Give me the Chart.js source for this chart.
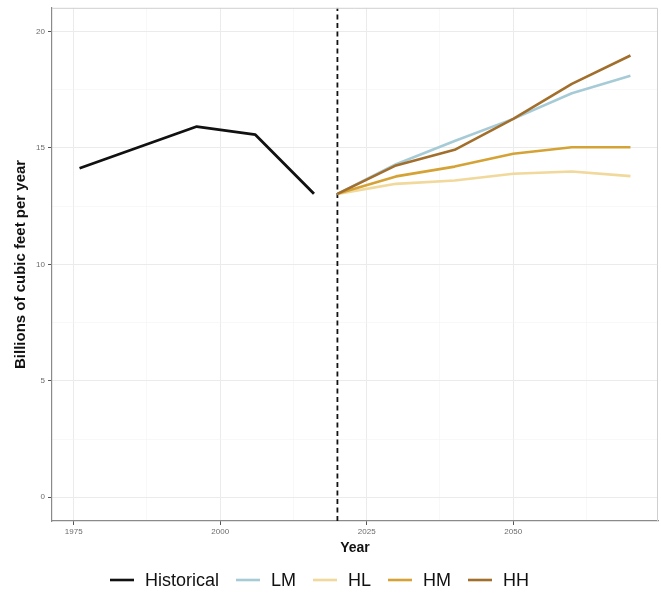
<!DOCTYPE html>
<html>
<head>
<meta charset="utf-8">
<script src="https://cdn.jsdelivr.net/npm/chart.js@4.4.1/dist/chart.umd.min.js"></script>
<style>
  html, body { margin: 0; padding: 0; background: #fff; }
</style>
</head>
<body>
<canvas id="chart" width="661" height="593"></canvas>
<script>
// historical series
const histYears  = [1976, 1996, 2006, 2016];
const histValues = [14.13, 15.92, 15.57, 13.03];

// scenario projections
const projYears = [2020, 2030, 2040, 2050, 2060, 2070];
const lmValues  = [13.03, 14.30, 15.30, 16.25, 17.35, 18.10];
const hlValues  = [13.03, 13.46, 13.60, 13.89, 13.99, 13.79];
const hmValues  = [13.03, 13.78, 14.20, 14.75, 15.03, 15.03];
const hhValues  = [13.03, 14.25, 14.92, 16.25, 17.75, 18.97];

const seriesLabels = ['Historical', 'LM', 'HL', 'HM', 'HH'];
const cutoffYear = 2020;

// axis ticks (major labelled, minor only gridlines)
const xTicks = [1975, 1987.5, 2000, 2012.5, 2025, 2037.5, 2050, 2062.5];
const yTicks = [0, 2.5, 5, 7.5, 10, 12.5, 15, 17.5, 20];
const xRange = [1971.3, 2074.7];
const yRange = [-1.02, 21.02];

const colors = {
  Historical: '#111111',
  LM: '#a7cbd6',
  HL: '#f1d89b',
  HM: '#d5a235',
  HH: '#a26e2c'
};

const toPts = (xs, ys) => xs.map((x, i) => ({ x, y: ys[i] }));
const lineDs = (label, data, order) => ({
  label, data, order,
  borderColor: colors[label],
  backgroundColor: colors[label],
  borderWidth: label === 'Historical' ? 2.8 : 2.6,
  borderJoinStyle: 'round',
  pointRadius: 0,
  tension: 0
});

const isMajor = (v, step) => Math.abs(v / step - Math.round(v / step)) < 1e-6;

// border on top/right of panel (theme_bw style) and custom legend row
const panelAndLegend = {
  id: 'panelAndLegend',
  afterDraw(chart) {
    const { ctx, chartArea: a } = chart;
    ctx.save();
    ctx.strokeStyle = '#cfcfcf';
    ctx.lineWidth = 1;
    ctx.beginPath();
    ctx.moveTo(a.left, a.top + 0.5);
    ctx.lineTo(a.right - 0.5, a.top + 0.5);
    ctx.lineTo(a.right - 0.5, a.bottom);
    ctx.stroke();

    // legend
    const items = chart.data.datasets.filter(d => seriesLabels.includes(d.label));
    ctx.font = '18px "Liberation Sans", Arial, sans-serif';
    ctx.textBaseline = 'middle';
    const sw = 24, gapTxt = 11, gapItem = 17;
    const widths = items.map(d => sw + gapTxt + ctx.measureText(d.label).width);
    const total = widths.reduce((s, w) => s + w, 0) + gapItem * (items.length - 1);
    let x = 319.5 - total / 2;
    const y = 580;
    items.forEach((d, i) => {
      ctx.strokeStyle = d.borderColor;
      ctx.lineWidth = 2.6;
      ctx.beginPath();
      ctx.moveTo(x, y);
      ctx.lineTo(x + sw, y);
      ctx.stroke();
      ctx.fillStyle = '#111';
      ctx.fillText(d.label, x + sw + gapTxt, y + 1);
      x += widths[i] + gapItem;
    });
    ctx.restore();
  }
};

new Chart(document.getElementById('chart'), {
  type: 'line',
  data: {
    datasets: [
      lineDs('Historical', toPts(histYears, histValues), 0),
      lineDs('LM', toPts(projYears, lmValues), 4),
      lineDs('HL', toPts(projYears, hlValues), 3),
      lineDs('HM', toPts(projYears, hmValues), 2),
      lineDs('HH', toPts(projYears, hhValues), 1),
      {
        label: 'cutoff',
        data: [{ x: cutoffYear, y: yRange[0] }, { x: cutoffYear, y: yRange[1] }],
        borderColor: '#111',
        borderWidth: 1.8,
        borderDash: [5, 3.5],
        pointRadius: 0,
        order: 5
      }
    ]
  },
  options: {
    responsive: false,
    animation: false,
    devicePixelRatio: 1,
    layout: { padding: { left: 0, right: 3, top: 7, bottom: 30 } },
    plugins: {
      legend: { display: false },
      tooltip: { enabled: false }
    },
    scales: {
      x: {
        type: 'linear',
        min: xRange[0], max: xRange[1],
        afterBuildTicks: s => { s.ticks = xTicks.map(v => ({ value: v })); },
        afterFit: s => { s.height = 42; },
        ticks: {
          padding: 2,
          color: '#6b6b6b',
          font: { family: '"Liberation Sans", Arial, sans-serif', size: 8 },
          maxRotation: 0,
          autoSkip: false,
          callback: v => isMajor(v, 25) ? String(v) : ''
        },
        grid: {
          color: c => isMajor(c.tick.value, 25) ? '#ebebeb' : '#f4f4f4',
          lineWidth: c => isMajor(c.tick.value, 25) ? 1 : 0.6,
          tickLength: 4,
          tickColor: c => isMajor(c.tick.value, 25) ? '#555' : 'rgba(0,0,0,0)',
          tickWidth: 1
        },
        border: { color: '#8a8a8a', width: 1.2 },
        title: {
          display: true,
          text: 'Year',
          color: '#111',
          padding: { top: 0, bottom: 6 },
          font: { family: '"Liberation Sans", Arial, sans-serif', size: 14, weight: 'bold' }
        }
      },
      y: {
        type: 'linear',
        min: yRange[0], max: yRange[1],
        afterBuildTicks: s => { s.ticks = yTicks.map(v => ({ value: v })); },
        afterFit: s => { s.width = 52; },
        ticks: {
          padding: 3,
          color: '#6b6b6b',
          font: { family: '"Liberation Sans", Arial, sans-serif', size: 8 },
          autoSkip: false,
          callback: v => isMajor(v, 5) ? String(v) : ''
        },
        grid: {
          color: c => isMajor(c.tick.value, 5) ? '#ebebeb' : '#f4f4f4',
          lineWidth: c => isMajor(c.tick.value, 5) ? 1 : 0.6,
          tickLength: 4,
          tickColor: c => isMajor(c.tick.value, 5) ? '#555' : 'rgba(0,0,0,0)',
          tickWidth: 1
        },
        border: { color: '#8a8a8a', width: 1.2 },
        title: {
          display: true,
          text: 'Billions of cubic feet per year',
          color: '#111',
          padding: { top: 12, bottom: 0 },
          font: { family: '"Liberation Sans", Arial, sans-serif', size: 15, weight: 'bold' }
        }
      }
    }
  },
  plugins: [panelAndLegend]
});
</script>
</body>
</html>
